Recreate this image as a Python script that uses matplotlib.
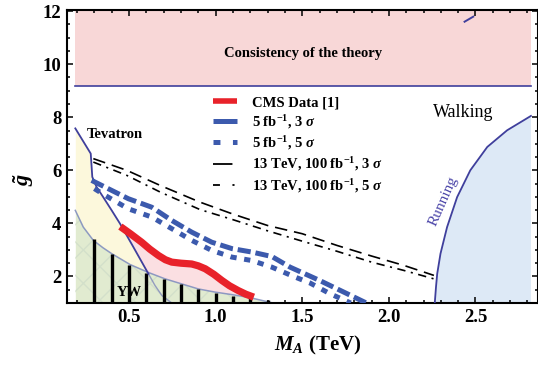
import numpy as np
import matplotlib
matplotlib.use("Agg")
import matplotlib.pyplot as plt
from matplotlib.lines import Line2D
from matplotlib.ticker import MultipleLocator

plt.rcParams["font.family"] = ["Liberation Serif", "DejaVu Serif"]
plt.rcParams["font.weight"] = "bold"
plt.rcParams["axes.labelweight"] = "bold"
plt.rcParams["mathtext.fontset"] = "custom"
plt.rcParams["mathtext.rm"] = "Liberation Serif:bold"
plt.rcParams["mathtext.it"] = "Liberation Serif:italic:bold"
plt.rcParams["mathtext.bf"] = "Liberation Serif:bold"
plt.rcParams["lines.scale_dashes"] = False

# ------------------------------------------------------------
# data (M_A in TeV, g~)
# ------------------------------------------------------------

X_LO, X_HI = 0.19, 2.82
THEORY_Y = 9.17
TOP_Y = 12.0

tev_x = [0.19, 0.279, 0.288, 0.313, 0.351, 0.40, 0.448, 0.525, 0.612, 0.65, 0.69, 0.747]
tev_y = [7.58, 6.63, 5.75, 5.37, 4.99, 4.49, 3.99, 3.11, 2.10, 1.66, 1.28, 1.0]

yw_x = [0.19, 0.236, 0.294, 0.35, 0.40, 0.506, 0.612, 0.708, 0.804, 0.90, 0.997, 1.10, 1.20, 1.33]
yw_y = [4.49, 3.86, 3.36, 3.08, 2.86, 2.45, 2.15, 1.91, 1.72, 1.53, 1.41, 1.31, 1.20, 1.0]

bar_x = [0.3, 0.4, 0.5, 0.6, 0.7, 0.8, 0.9, 1.0, 1.1, 1.2, 1.3]
bar_top = [3.43, 2.83, 2.42, 2.14, 1.91, 1.70, 1.53, 1.38, 1.28, 1.20, 1.10]

cms_x = [0.45, 0.51, 0.573, 0.62, 0.67, 0.71, 0.747, 0.80, 0.862, 0.90, 0.94,
         0.99, 1.036, 1.08, 1.13, 1.175, 1.22]
cms_y = [3.88, 3.60, 3.29, 3.03, 2.79, 2.63, 2.54, 2.50, 2.47, 2.40, 2.29,
         2.08, 1.85, 1.65, 1.47, 1.33, 1.22]

b3_x = [0.284, 0.361, 0.496, 0.631, 0.747, 0.862, 0.978, 1.094, 1.209, 1.325, 1.43, 1.60, 1.74, 1.87]
b3_y = [5.62, 5.37, 4.93, 4.61, 4.11, 3.67, 3.29, 3.05, 2.92, 2.75, 2.35, 1.85, 1.41, 1.0]

b5_x = [0.30, 0.361, 0.496, 0.631, 0.747, 0.862, 0.978, 1.094, 1.209, 1.325, 1.45, 1.546, 1.66, 1.78]
b5_y = [5.31, 5.06, 4.55, 4.24, 3.80, 3.36, 2.98, 2.73, 2.60, 2.35, 2.00, 1.75, 1.35, 1.0]

k_x = [0.294, 0.487, 0.68, 0.91, 1.10, 1.30, 1.50, 1.70, 1.90, 2.085, 2.26]
k3_y = [6.44, 6.00, 5.43, 4.80, 4.35, 3.92, 3.61, 3.17, 2.77, 2.42, 2.04]
k5_y = [6.31, 5.81, 5.18, 4.52, 4.14, 3.72, 3.33, 2.95, 2.54, 2.23, 1.91]

run_x = [2.265, 2.272, 2.279, 2.298, 2.336, 2.394, 2.47, 2.568, 2.683, 2.82]
run_y = [1.0, 1.6, 2.1, 2.86, 3.86, 4.99, 6.0, 6.88, 7.51, 8.05]

# small stray pieces of curve inside the theory band
stray_x = [2.437, 2.487]
stray_y = [11.60, 11.79]

labels = [
    "CMS Data [1]",
    r"5 fb$^{\mathbf{-1}}$, 3 $\sigma$",
    r"5 fb$^{\mathbf{-1}}$, 5 $\sigma$",
    r"13 TeV, 100 fb$^{\mathbf{-1}}$, 3 $\sigma$",
    r"13 TeV, 100 fb$^{\mathbf{-1}}$, 5 $\sigma$",
]

# ------------------------------------------------------------
# colours / styles
# ------------------------------------------------------------

RED = "#e8222a"
BLUE = "#3c5aad"
EDGE = "#3f3f9c"
PINK_BAND = "#f8d7d7"
PINK = "#fbdfe2"
YELLOW = "#fcf8dc"
GREEN = "#e1ebd0"
LIGHTBLUE = "#dde9f6"

B3_LS = (0, (9.5, 3.5))
B5_LS = (0, (4.5, 5.5))
K3_LS = (0, (9, 5))
K5_LS = (0, (6, 4, 1.5, 4))

fig = plt.figure(figsize=(5.38, 3.66), dpi=100)
ax = fig.add_axes([67 / 538, 1 - 303 / 366, 470.5 / 538, 293.5 / 366])

# theory band
ax.fill_between([X_LO, X_HI], THEORY_Y, TOP_Y, color=PINK_BAND, lw=0, zorder=1)
ax.plot([X_LO, X_HI], [THEORY_Y, THEORY_Y], color=EDGE, lw=1.2, zorder=2)
ax.plot(stray_x, stray_y, color=EDGE, lw=1.4, zorder=2)
ax.text(1.506, 10.41, "Consistency of the theory", ha="center", va="center",
        fontsize=10.5, zorder=3)

# YW region (green, faint hatch)
xg = np.linspace(X_LO, yw_x[-1], 300)
yg = np.interp(xg, yw_x, yw_y)
ax.fill_between(xg, 1.0, yg, color=GREEN, lw=0, zorder=1)
ax.fill_between(xg, 1.0, yg, facecolor="none", edgecolor="#d3e0ca", hatch="x",
                lw=0, zorder=1.1)

# Tevatron region (yellow)
xt = np.linspace(X_LO, 0.612, 200)
ax.fill_between(xt, np.interp(xt, yw_x, yw_y), np.interp(xt, tev_x, tev_y),
                color=YELLOW, lw=0, zorder=1)

# pink region under CMS curve
xc = np.linspace(cms_x[0], cms_x[-1], 300)
low = np.maximum(np.interp(xc, yw_x, yw_y), np.interp(xc, tev_x, tev_y))
ax.fill_between(xc, low, np.interp(xc, cms_x, cms_y), color=PINK, lw=0, zorder=1)

# running region
ax.fill(run_x + [X_HI], run_y + [1.0], color=LIGHTBLUE, lw=0, zorder=1)
ax.plot(run_x, run_y, color=EDGE, lw=1.3, zorder=4)

# boundaries
ax.plot(tev_x[:9], tev_y[:9], color=EDGE, lw=1.3, zorder=4)
ax.plot(tev_x[8:], tev_y[8:], color="#8088bb", lw=1.0, alpha=0.8, zorder=2)
ax.plot(yw_x, yw_y, color="#8290be", lw=1.1, alpha=0.9, zorder=2)

# YW hatching bars
ax.vlines(bar_x, 1.0, bar_top, color="black", lw=2.4, zorder=3)

# curves
ax.plot(cms_x, cms_y, color=RED, lw=5.2, solid_capstyle="butt", zorder=5)
ax.plot(b3_x, b3_y, color=BLUE, lw=3.6, linestyle=B3_LS, dash_capstyle="butt", zorder=5)
ax.plot(b5_x, b5_y, color=BLUE, lw=3.6, linestyle=B5_LS, dash_capstyle="butt", zorder=5)
ax.plot(k_x, k3_y, color="black", lw=1.2, linestyle=K3_LS, zorder=5)
ax.plot(k_x, k5_y, color="black", lw=1.2, linestyle=K5_LS, zorder=5)

# texts
ax.text(0.42, 7.36, "Tevatron", ha="center", va="center", fontsize=10.5, zorder=6)
ax.text(0.50, 1.41, "YW", ha="center", va="center", fontsize=10.5, zorder=6)
ax.text(2.43, 8.19, "Walking", ha="center", va="center", fontsize=13,
        fontweight="normal", zorder=6)
ax.text(2.312, 4.85, "Running", ha="center", va="center", fontsize=11,
        fontweight="normal", rotation=66, color="#4a44a8", zorder=6)

# legend
handles = [
    Line2D([], [], color=RED, lw=4.0, solid_capstyle="butt"),
    Line2D([], [], color=BLUE, lw=3.6, linestyle=(0, (18, 4)), dash_capstyle="butt"),
    Line2D([], [], color=BLUE, lw=3.6, linestyle=(0, (5, 9)), dash_capstyle="butt"),
    Line2D([], [], color="black", lw=1.3, linestyle=(0, (14, 6))),
    Line2D([], [], color="black", lw=1.3, linestyle=(0, (5, 9, 1.5, 6))),
]
ax.legend(handles, labels, loc="upper left", bbox_to_anchor=(0.311, 0.705),
          frameon=False, borderpad=0, borderaxespad=0, handlelength=1.65,
          handletextpad=1.0, labelspacing=0.24, fontsize=10.5)

# axes
ax.set_xlim(0.142, 2.858)
ax.set_ylim(1.0, 12.06)
ax.xaxis.set_minor_locator(MultipleLocator(0.1))
ax.yaxis.set_minor_locator(MultipleLocator(0.5))
ax.set_xticks([0.5, 1.0, 1.5, 2.0, 2.5])
ax.set_xticklabels(["0.5", "1.0", "1.5", "2.0", "2.5"])
ax.set_yticks([2, 4, 6, 8, 10, 12])
ax.tick_params(which="both", direction="in", top=True, right=True, width=1.1)
ax.tick_params(which="major", length=4.5, labelsize=13.5, pad=4)
ax.tick_params(which="minor", length=2.5)
for s in ax.spines.values():
    s.set_linewidth(1.5)

ax.set_xlabel(r"$M_A$ (TeV)", fontsize=15, fontweight="bold")
ax.xaxis.set_label_coords(0.532, -0.105)
ax.set_ylabel(r"$\tilde{g}$", fontsize=16, rotation=90)
ax.yaxis.set_label_coords(-0.065, 0.42)

fig.savefig("out.png", dpi=100)
